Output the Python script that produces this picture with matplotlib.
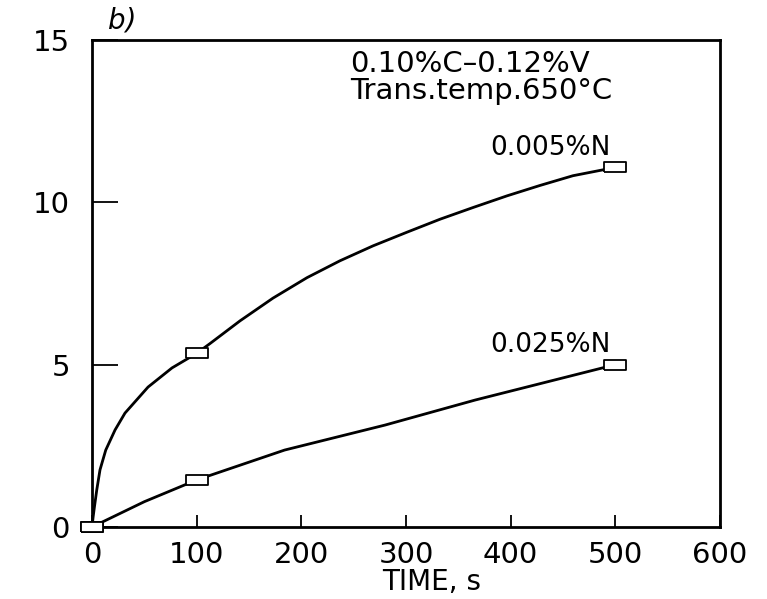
import matplotlib
matplotlib.use("Agg")
import matplotlib.pyplot as plt

# measured points (open square markers)
time_meas = [0, 100, 500]
n005_meas = [0, 5.35, 11.08]
n025_meas = [0, 1.45, 5.0]

# curve traces
n005_curve_t = [0, 1, 2.2, 4.5, 7.6, 13.1, 22, 31.5, 53.5, 76.4, 100, 112.7, 141.4, 172.9,
                205.4, 236.9, 268.5, 300.9, 332.5, 364, 396.5, 428, 459.5, 488, 500]
n005_curve_y = [0, 0.3, 0.6, 1.14, 1.76, 2.37, 2.99, 3.51, 4.31, 4.90, 5.35, 5.65, 6.35, 7.05,
                7.68, 8.2, 8.66, 9.08, 9.48, 9.84, 10.2, 10.52, 10.82, 11.0, 11.08]
n025_curve_t = [0, 50, 100, 184, 280, 366, 500]
n025_curve_y = [0, 0.78, 1.45, 2.37, 3.14, 3.91, 5.0]

x_ticks = [0, 100, 200, 300, 400, 500, 600]
y_ticks = [0, 5, 10, 15]

plt.rcParams['font.family'] = ['DejaVu Sans']

fig = plt.figure(figsize=(7.67, 5.99), dpi=100)
ax = fig.add_axes([0.12, 0.1202, 0.8187, 0.813])

box = [(-1, -0.45), (1, -0.45), (1, 0.45), (-1, 0.45), (-1, -0.45)]

ax.plot(n005_curve_t, n005_curve_y, color='black', lw=2.0, solid_joinstyle='round')
ax.plot(n025_curve_t, n025_curve_y, color='black', lw=2.0, solid_joinstyle='round')
for vals in (n005_meas, n025_meas):
    ax.plot(time_meas, vals, ls='none', marker=box, markersize=16,
            markerfacecolor='white', markeredgecolor='black', markeredgewidth=1.3,
            clip_on=False, zorder=5)

ax.set_xlim(0, 600)
ax.set_ylim(0, 15)
ax.set_xticks(x_ticks)
ax.set_yticks(y_ticks)
ax.tick_params(axis='x', direction='in', length=9, width=1.3, pad=10, labelsize=21)
ax.tick_params(axis='y', direction='in', length=19, width=1.3, pad=16, labelsize=21)
for s in ax.spines.values():
    s.set_linewidth(2.0)

ax.set_xlabel('TIME, s', fontsize=20)
ax.xaxis.set_label_coords(0.54, -0.085)

ax.text(372, 13.85, '0.10%C\u20130.12%V\nTrans.temp.650°C', ha='center', va='center',
        multialignment='left', fontsize=21, linespacing=0.95)
ax.text(438, 11.67, '0.005%N', ha='center', va='center', fontsize=19)
ax.text(438, 5.6, '0.025%N', ha='center', va='center', fontsize=19)

fig.text(0.16, 0.965, 'b)', ha='center', va='center', fontsize=20, style='italic')

fig.savefig('out.png', dpi=100)
